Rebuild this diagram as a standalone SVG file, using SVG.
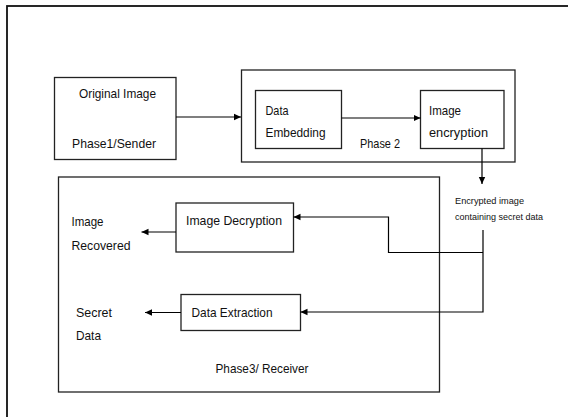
<svg xmlns="http://www.w3.org/2000/svg" width="568" height="417" viewBox="0 0 568 417">
<defs>
<marker id="ah" markerUnits="userSpaceOnUse" markerWidth="8" markerHeight="8" viewBox="0 0 8 8" refX="7" refY="4" orient="auto">
<path d="M0,0.8 L7,4 L0,7.2 Z" fill="#000"/>
</marker>
<style>
.box{fill:#fff;stroke:#222;stroke-width:1.3}
.t{font-family:"Liberation Sans",Arial,sans-serif;font-size:13px;fill:#111}
.s{font-family:"Liberation Sans",Arial,sans-serif;font-size:9.5px;fill:#111}
.c{fill:none;stroke:#000;stroke-width:1.2}
</style>
</defs>
<rect width="568" height="417" fill="#fff"/>
<g id="frame"><rect x="7" y="6" width="600" height="460" fill="none" stroke="#111" stroke-width="1.8"/></g>
<g id="phase1">
<rect class="box" x="54.5" y="77.5" width="121.5" height="82"/>
<text class="t" x="79" y="98" textLength="77" lengthAdjust="spacingAndGlyphs">Original Image</text>
<text class="t" x="72" y="147.5" textLength="84" lengthAdjust="spacingAndGlyphs">Phase1/Sender</text>
</g>
<g id="phase2">
<rect class="box" x="241.5" y="70" width="273.5" height="92"/>
<text class="t" x="360" y="147.5" textLength="40" lengthAdjust="spacingAndGlyphs">Phase 2</text>
</g>
<g id="embedding">
<rect class="box" x="255.5" y="90.5" width="86" height="58"/>
<text class="t" x="265.5" y="115" textLength="23" lengthAdjust="spacingAndGlyphs">Data</text>
<text class="t" x="265.5" y="137" textLength="60" lengthAdjust="spacingAndGlyphs">Embedding</text>
</g>
<g id="encryption">
<rect class="box" x="420.5" y="90.5" width="83.5" height="58"/>
<text class="t" x="429" y="115" textLength="32" lengthAdjust="spacingAndGlyphs">Image</text>
<text class="t" x="429" y="137" textLength="59" lengthAdjust="spacingAndGlyphs">encryption</text>
</g>
<g id="phase3">
<rect class="box" x="58.5" y="177" width="381" height="215"/>
<text class="t" x="215.5" y="373" textLength="93" lengthAdjust="spacingAndGlyphs">Phase3/ Receiver</text>
</g>
<g id="decryption">
<rect class="box" x="176" y="203" width="117.5" height="49"/>
<text class="t" x="186" y="225" textLength="96" lengthAdjust="spacingAndGlyphs">Image Decryption</text>
</g>
<g id="extraction">
<rect class="box" x="181" y="294.5" width="119.5" height="36"/>
<text class="t" x="191.5" y="317" textLength="81" lengthAdjust="spacingAndGlyphs">Data Extraction</text>
</g>
<g id="recovered">
<text class="t" x="71.5" y="226" textLength="32" lengthAdjust="spacingAndGlyphs">Image</text>
<text class="t" x="71.5" y="250" textLength="59" lengthAdjust="spacingAndGlyphs">Recovered</text>
</g>
<g id="secret">
<text class="t" x="76" y="317" textLength="36" lengthAdjust="spacingAndGlyphs">Secret</text>
<text class="t" x="76" y="340" textLength="25" lengthAdjust="spacingAndGlyphs">Data</text>
</g>
<g id="enc-label">
<text class="s" x="455" y="203.5" textLength="69" lengthAdjust="spacingAndGlyphs">Encrypted image</text>
<text class="s" x="455" y="220" textLength="88" lengthAdjust="spacingAndGlyphs">containing secret data</text>
</g>
<g id="connectors">
<path class="c" d="M176,117 H241" marker-end="url(#ah)"/>
<path class="c" d="M341.5,118 H420.5" marker-end="url(#ah)"/>
<path class="c" d="M482,148.5 V184" marker-end="url(#ah)"/>
<path class="c" d="M483,230 V312 H300.5" marker-end="url(#ah)"/>
<path class="c" d="M483,252.5 H388.5 V217 H293.5" marker-end="url(#ah)"/>
<path class="c" d="M176,232 H141.5" marker-end="url(#ah)"/>
<path class="c" d="M181,312.5 H145" marker-end="url(#ah)"/>
</g>
</svg>
